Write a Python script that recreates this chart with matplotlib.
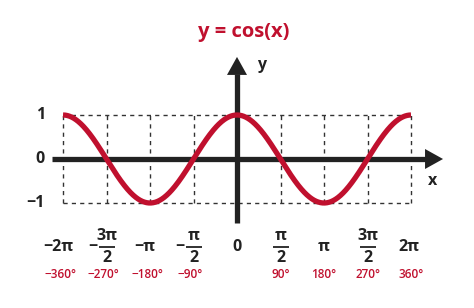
import numpy as np
import matplotlib
matplotlib.use("Agg")
import matplotlib.pyplot as plt

plt.rcParams['font.family'] = ['Open Sans', 'DejaVu Sans']

# ---- data ----
title = "y = cos(x)"
tick_steps = [-4, -3, -2, -1, 0, 1, 2, 3, 4]          # multiples of pi/2
pi_labels = ["−2π", ("−", "3π", "2"), "−π", ("−", "π", "2"), "0",
             ("", "π", "2"), "π", ("", "3π", "2"), "2π"]
deg_labels = ["−360°", "−270°", "−180°", "−90°", "", "90°", "180°", "270°", "360°"]
y_ticks = [1, 0, -1]
y_tick_labels = ["1", "0", "−1"]
x_range = (-2 * np.pi, 2 * np.pi)

RED = "#C0102E"
DARK = "#222222"

W, H = 474, 308
fig = plt.figure(figsize=(W / 100, H / 100), dpi=100)
ax = fig.add_axes([0, 0, 1, 1])
ax.set_axis_off()

# pixel mapping (origin at px (237,159))
sx = 43.5 / (np.pi / 2)   # px per radian
sy = 44.0                 # px per unit
ox, oy = 237, 159
ax.set_xlim(-ox / sx, (W - ox) / sx)
ax.set_ylim((oy - H) / sy, oy / sy)

def px(dx):  # pixel horizontal offset -> data
    return dx / sx
def py(dy):
    return dy / sy

xt = np.array(tick_steps) * np.pi / 2

# dashed grid
for xv in xt:
    ax.plot([xv, xv], [-1, 1], color="#333333", lw=1.0, ls=(0, (3, 3)), zorder=1)
for yv in (1, -1):
    ax.plot([x_range[0], x_range[1]], [yv, yv], color="#333333", lw=1.0, ls=(0, (3, 3)), zorder=1)

# axes (thick lines + triangular heads)
lw_axis = 3.8
x_start, x_tip = -6.68, 7.44
y_start, y_tip = -1.455, 2.32
hl, hw = 18, 10  # head length / half width in px
ax.plot([x_start, x_tip - px(hl) + px(1)], [0, 0], color=DARK, lw=lw_axis, solid_capstyle='butt', zorder=3)
ax.fill([x_tip - px(hl), x_tip, x_tip - px(hl)], [py(hw), 0, -py(hw)], color=DARK, zorder=3, lw=0)
ax.plot([0, 0], [y_start, y_tip - py(hl) + py(1)], color=DARK, lw=lw_axis, solid_capstyle='butt', zorder=3)
ax.fill([-px(hw), 0, px(hw)], [y_tip - py(hl), y_tip, y_tip - py(hl)], color=DARK, zorder=3, lw=0)

# curve
xs = np.linspace(x_range[0], x_range[1], 800)
ax.plot(xs, np.cos(xs), color=RED, lw=3.8, solid_capstyle='butt', zorder=4)

# title and axis names
ax.text(px(244 - ox), py(oy - 32), title, color=RED, fontsize=14.5, fontweight='bold',
        ha='center', va='center')
ax.text(px(262 - ox), py(oy - 65), "y", color=DARK, fontsize=11.5, fontweight='bold',
        ha='center', va='center')
ax.text(px(433 - ox), py(oy - 181), "x", color=DARK, fontsize=11.5, fontweight='bold',
        ha='center', va='center')

# y tick labels
for yv, lab in zip(y_ticks, y_tick_labels):
    ax.text(px(45 - ox), yv, lab, color=DARK, fontsize=11.5, fontweight='bold',
            ha='right', va='center')

# x tick labels (multiples of pi)
row = py(oy - 247)
num_y = py(oy - 236)
den_y = py(oy - 258)
for xv, lab in zip(xt, pi_labels):
    if isinstance(lab, tuple):
        sign, num, den = lab
        ax.text(xv, num_y, num, color=DARK, fontsize=11.5, fontweight='bold', ha='center', va='center')
        ax.text(xv, den_y, den, color=DARK, fontsize=11.5, fontweight='bold', ha='center', va='center')
        ax.plot([xv - px(8), xv + px(8)], [row, row], color=DARK, lw=1.3, solid_capstyle='butt')
        if sign:
            ax.text(xv - px(14), row, sign, color=DARK, fontsize=11.5, fontweight='bold',
                    ha='center', va='center')
    else:
        shift = -px(5) if lab.startswith("−") else (-px(2) if xv > 0 and lab != "π" else 0)
        ax.text(xv + shift, row, lab, color=DARK, fontsize=11.5, fontweight='bold',
                ha='center', va='center')

# degree labels
deg_row = py(oy - 275)
for xv, lab in zip(xt, deg_labels):
    if lab:
        shift = -px(3) if lab.startswith("−") else 0
        ax.text(xv + shift, deg_row, lab, color=RED, fontsize=8.5, fontweight='semibold',
                ha='center', va='center')

fig.savefig("out.png", dpi=100, facecolor="white")
